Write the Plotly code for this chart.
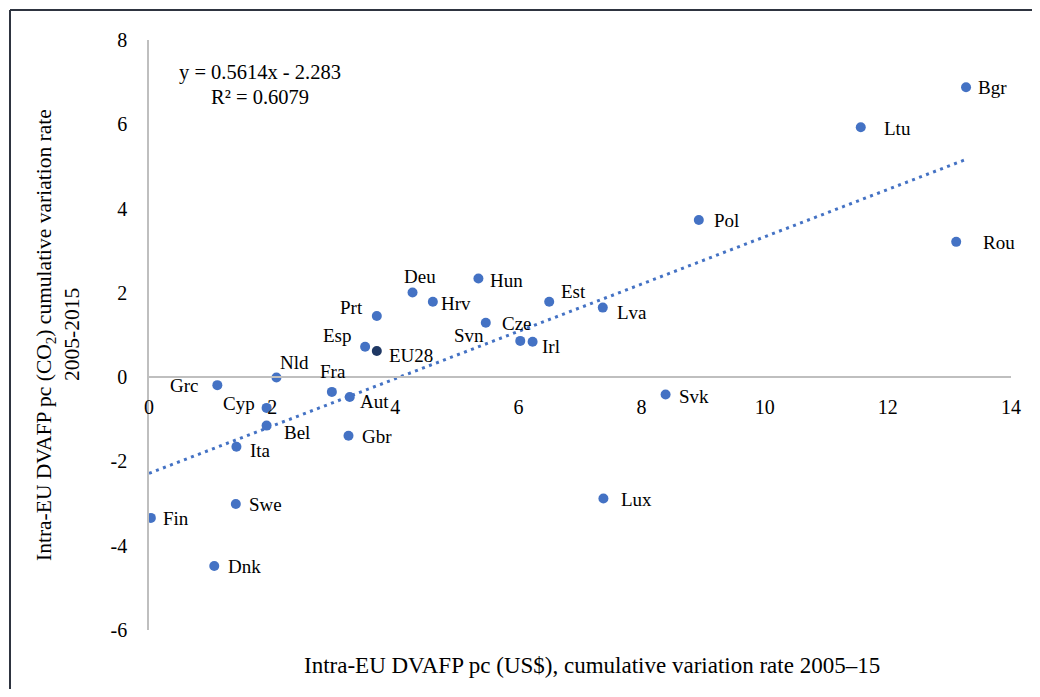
import plotly.graph_objects as go

# ---- data ----
countries = ["Bgr", "Ltu", "Pol", "Rou", "Hun", "Deu", "Hrv", "Est", "Lva", "Prt",
             "Cze", "Svn", "Irl", "Esp", "EU28", "Nld", "Grc", "Fra", "Aut", "Svk",
             "Cyp", "Bel", "Gbr", "Ita", "Swe", "Lux", "Fin", "Dnk"]
dvafp_var = [13.27, 11.56, 8.93, 13.11, 5.35, 4.28, 4.61, 6.50, 7.37, 3.70,
             5.47, 6.03, 6.23, 3.51, 3.70, 2.07, 1.11, 2.97, 3.26, 8.39,
             1.91, 1.91, 3.24, 1.42, 1.41, 7.38, 0.03, 1.06]
co2_var = [6.88, 5.93, 3.73, 3.21, 2.34, 2.01, 1.79, 1.79, 1.65, 1.45,
           1.29, 0.86, 0.84, 0.72, 0.62, -0.01, -0.19, -0.35, -0.47, -0.41,
           -0.73, -1.15, -1.39, -1.65, -3.01, -2.88, -3.34, -4.48]
x_ticks = [0, 2, 4, 6, 8, 10, 12, 14]
y_ticks = [-6, -4, -2, 0, 2, 4, 6, 8]
trend_slope = 0.5614
trend_intercept = -2.283
r_squared = 0.6079

# ---- label placement (styling): anchor, dx, dy in pixels (dy positive = down) ----
label_style = {
    "Bgr": ("left", 10, 0), "Ltu": ("left", 21, 1), "Pol": ("left", 13, 1),
    "Rou": ("left", 25, 1), "Hun": ("left", 10, 2), "Deu": ("center", 7, -16),
    "Hrv": ("left", 6, 2), "Est": ("left", 10, -10), "Lva": ("left", 12, 5),
    "Prt": ("right", -12, -9), "Cze": ("left", 14, 1), "Svn": ("right", -34, -5),
    "Irl": ("left", 7, 5), "Esp": ("right", -11, -11), "EU28": ("left", 10, 4),
    "Nld": ("left", 2, -15), "Grc": ("right", -17, 0), "Fra": ("center", 1, -20),
    "Aut": ("left", 8, 5), "Svk": ("left", 11, 2), "Cyp": ("right", -10, -4),
    "Bel": ("left", 15, 7), "Gbr": ("left", 12, 1), "Ita": ("left", 12, 4),
    "Swe": ("left", 11, 1), "Lux": ("left", 16, 1), "Fin": ("left", 10, 1),
    "Dnk": ("left", 12, 1),
}

FONT = "Liberation Serif"
BLUE = "#4472C4"
NAVY = "#1F3864"

# page body has an 8px margin; figure coordinates below are page coords - 8
OFF = 8
W, H = 1040 - OFF, 697 - 2 * OFF
ML, MT = 149 - OFF, 40 - OFF
MR = W + OFF - 1011   # right edge of plot at page x=1011
MB = H + OFF - 630    # bottom of plot at page y=630
PW, PH = W - ML - MR, H - MT - MB


def px(xp):
    return (xp - OFF - ML) / PW


def py(yp):
    return (H - MB - (yp - OFF)) / PH


colors = [NAVY if c == "EU28" else BLUE for c in countries]

fig = go.Figure()

x_end = max(dvafp_var)
fig.add_trace(go.Scatter(
    x=[0, x_end],
    y=[trend_intercept, trend_slope * x_end + trend_intercept],
    mode="lines",
    line=dict(color=BLUE, width=3, dash="3px,4.5px"),
    hoverinfo="skip", showlegend=False,
))

fig.add_trace(go.Scatter(
    x=dvafp_var, y=co2_var, mode="markers",
    marker=dict(color=colors, size=10, line=dict(width=0)),
    text=countries, showlegend=False,
))

annotations = []
for c, xv, yv in zip(countries, dvafp_var, co2_var):
    anchor, dx, dy = label_style[c]
    annotations.append(dict(
        x=xv, y=yv, xref="x", yref="y", text=c, showarrow=False,
        xanchor=anchor, yanchor="middle", xshift=dx, yshift=-dy,
        font=dict(family=FONT, size=19, color="#000000"),
    ))

# equation
annotations.append(dict(
    x=px(259.5), y=py(72), xref="paper", yref="paper",
    text=f"y = {trend_slope}x - {abs(trend_intercept)}", showarrow=False,
    xanchor="center", yanchor="middle",
    font=dict(family=FONT, size=20.5, color="#000000"),
))
annotations.append(dict(
    x=px(260), y=py(97), xref="paper", yref="paper",
    text=f"R² = {r_squared}", showarrow=False,
    xanchor="center", yanchor="middle",
    font=dict(family=FONT, size=20.5, color="#000000"),
))

# axis titles
annotations.append(dict(
    x=px(592), y=py(665), xref="paper", yref="paper",
    text="Intra-EU DVAFP pc (US$), cumulative variation rate 2005–15",
    showarrow=False, xanchor="center", yanchor="middle",
    font=dict(family=FONT, size=23, color="#000000"),
))
annotations.append(dict(
    x=px(45), y=py(335), xref="paper", yref="paper",
    text="Intra-EU DVAFP pc (CO<sub>2</sub>) cumulative variation rate",
    showarrow=False, xanchor="center", yanchor="middle", textangle=-90,
    font=dict(family=FONT, size=21.5, color="#000000"),
))
annotations.append(dict(
    x=px(72), y=py(335), xref="paper", yref="paper",
    text="2005-2015",
    showarrow=False, xanchor="center", yanchor="middle", textangle=-90,
    font=dict(family=FONT, size=21.5, color="#000000"),
))

frame_color = "#2E3440"
shapes = [
    dict(type="line", xref="paper", yref="paper",
         x0=px(10), x1=1.2, y0=py(10), y1=py(10),
         line=dict(color=frame_color, width=2)),
    dict(type="line", xref="paper", yref="paper",
         x0=px(10), x1=px(10), y0=py(10), y1=-0.3,
         line=dict(color=frame_color, width=2)),
]

fig.update_layout(
    width=W, height=H,
    margin=dict(l=ML, r=MR, t=MT, b=MB),
    paper_bgcolor="white", plot_bgcolor="white",
    showlegend=False,
    annotations=annotations,
    shapes=shapes,
    xaxis=dict(
        range=[0, 14], tickvals=x_ticks, ticktext=[str(v) for v in x_ticks],
        showgrid=False, zeroline=False,
        showline=True, linecolor="#BFBFBF", linewidth=1.5,
        ticks="outside", ticklen=12, tickcolor="rgba(0,0,0,0)",
        anchor="free", position=6 / 14,
        tickfont=dict(family=FONT, size=20, color="#000000"),
    ),
    yaxis=dict(
        range=[-6, 8], tickvals=y_ticks, ticktext=[str(v) for v in y_ticks],
        showgrid=False, zeroline=False,
        showline=True, linecolor="#BFBFBF", linewidth=1.5,
        ticks="outside", ticklen=16, tickcolor="rgba(0,0,0,0)",
        tickfont=dict(family=FONT, size=20, color="#000000"),
    ),
)

fig.write_html(
    "out.html",
    post_script="document.documentElement.style.overflow='hidden';"
                "document.body.style.overflow='hidden';",
)
